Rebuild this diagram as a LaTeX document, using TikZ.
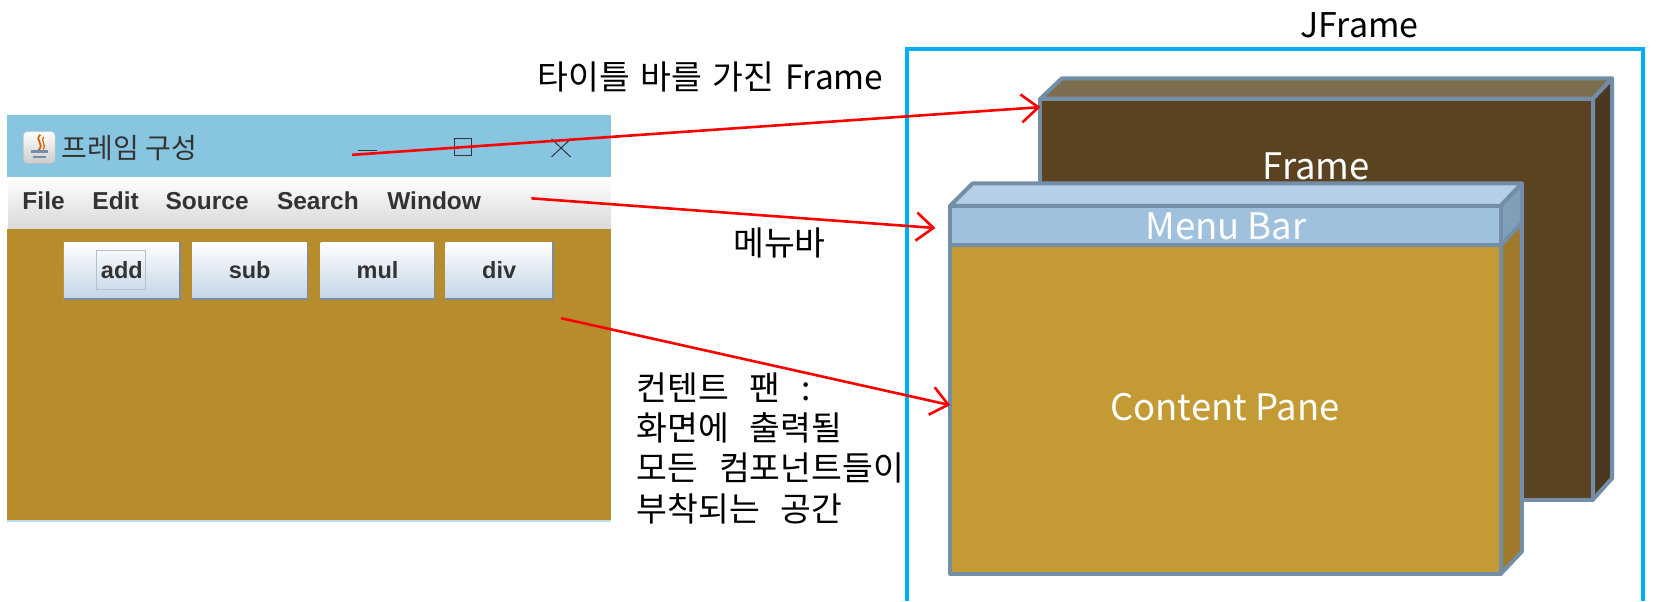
\documentclass[tikz,border=0pt]{standalone}
\usepackage{fontspec}
\setmainfont{Liberation Sans}
\newfontfamily\korfont{Noto Sans CJK KR}
\newcommand{\labelfont}{\korfont\fontsize{33.5}{40.3}\selectfont\spaceskip=10.5pt\relax}
\newcommand{\panefont}{\korfont\fontsize{33.5}{40.3}\selectfont\spaceskip=21pt\relax}
\usepackage{tikz}
\usetikzlibrary{arrows.meta}
\definecolor{framefront}{HTML}{5B4322}
\definecolor{frametop}{HTML}{7D6D4F}
\definecolor{frameside}{HTML}{4A3820}
\definecolor{menufront}{HTML}{9FC1DE}
\definecolor{menutop}{HTML}{B5D0E6}
\definecolor{menuside}{HTML}{819FB8}
\definecolor{panefront}{HTML}{C49A35}
\definecolor{paneside}{HTML}{A07A2A}
\definecolor{blockline}{HTML}{738FA8}
\definecolor{titlebar}{HTML}{88C5E0}
\definecolor{winpane}{HTML}{B78C2C}
\definecolor{jframeline}{HTML}{00B0F0}
\definecolor{glyphgray}{HTML}{333333}
\definecolor{btnbottom}{HTML}{C3D4E6}
\definecolor{btnshadow}{HTML}{7A8CA0}
\tikzset{
    blockface/.style={draw=blockline,line width=4pt,line join=round},
    arrowline/.style={draw=red,line width=2.6pt,-{Straight Barb[length=17pt,width=28pt,line width=2.6pt]}},
    btn/.style={top color=white,bottom color=btnbottom,inner sep=0pt,minimum height=57pt,anchor=north west,font=\fontsize{23.5}{23.5}\selectfont\bfseries,text=glyphgray},
    menuitem/.style={font=\fontsize{24.5}{24.5}\selectfont\bfseries,text=glyphgray,anchor=base west,inner sep=0pt},
    label/.style={font=\labelfont,text=black,inner sep=0pt},
    blocklabel/.style={font=\korfont\fontsize{36.5}{36.5}\selectfont,text=white,inner sep=0pt},
}
\begin{document}
\begin{tikzpicture}[x=1.0606pt,y=-1.0606pt]
    \useasboundingbox (0,0) rectangle (1568,567);

    % window on the left
    \fill[titlebar] (7,108) rectangle (576,167);
    \fill[winpane] (7,216) rectangle (576,491);
    \shade[top color=white,bottom color=black!15] (8,167) rectangle (576,215);
    \draw[titlebar!60,line width=2pt] (7,491) -- (576,491);
    \node[font=\korfont\fontsize{28}{28}\selectfont,text=glyphgray,anchor=west,inner sep=0pt] (wintitle) at (58,140) {프레임 구성};

    % java icon
    \draw[black!25,top color=white,bottom color=black!20,rounded corners=4pt] (22,124) rectangle (52,154);
    \draw[orange!80!black,line width=1.8pt] (38,127) .. controls (32,133) and (43,135) .. (36,142);
    \draw[orange!80!black,line width=1.2pt] (41,129) .. controls (38,133) and (44,136) .. (41,141);
    \draw[blockline,line width=2.5pt] (29,143) -- (45,143);
    \draw[blockline,line width=2pt] (31,148) -- (43,148);

    \draw[glyphgray,line width=1pt] (338,142) -- (355,142);
    \draw[glyphgray,line width=1pt] (429,131) rectangle (445,147);
    \draw[glyphgray,line width=1pt] (520,131) -- (538,148) (538,131) -- (520,148);

    \node[menuitem] (file) at (21,198) {File};
    \node[menuitem] (edit) at (87,198) {Edit};
    \node[menuitem] (source) at (156,198) {Source};
    \node[menuitem] (search) at (261,198) {Search};
    \node[menuitem] (window) at (365,198) {Window};

    \node[btn,minimum width=116pt] (add) at (60,228) {add};
    \draw[blockline!55,line width=1.5pt] (91,236) rectangle (137,273);
    \node[btn,minimum width=115pt] (sub) at (181,228) {sub};
    \node[btn,minimum width=114pt] (mul) at (302,228) {mul};
    \node[btn,minimum width=107pt] (div) at (420,228) {div};
    \foreach \b in {add,sub,mul,div}
        \draw[btnshadow,line width=1.5pt] (\b.south west) -- (\b.south east) -- (\b.north east);

    % the outer frame, open at the bottom
    \draw[jframeline,line width=4pt] (855,567) -- (855,46) -- (1549,46) -- (1549,567);
    \node[label,font=\korfont\fontsize{34}{34}\selectfont] (jframe) at (1282,24) {JFrame};

    % back block
    \draw[blockface,fill=frametop] (981,93) -- (1001,74) -- (1520,74) -- (1502,93) -- cycle;
    \draw[blockface,fill=frameside] (1502,93) -- (1520,74) -- (1520,451) -- (1502,471) -- cycle;
    \draw[blockface,fill=framefront] (981,93) rectangle (1502,471);
    \node[blocklabel] (framelabel) at (1241,157) {Frame};

    % front block
    \draw[blockface,fill=menutop] (896,194) -- (917,173) -- (1435,173) -- (1415,194) -- cycle;
    \draw[blockface,fill=paneside] (1415,231) -- (1435,210) -- (1435,520) -- (1415,541) -- cycle;
    \draw[blockface,fill=menuside] (1415,194) -- (1435,173) -- (1435,210) -- (1415,231) -- cycle;
    \draw[blockface,fill=panefront] (896,231) rectangle (1415,541);
    \draw[blockface,fill=menufront] (896,194) rectangle (1415,231);
    \node[blocklabel] (menubarlabel) at (1156,213) {Menu Bar};
    \node[blocklabel] (panelabel) at (1155,384) {Content Pane};

    % texts next to the arrows
    \node[label,anchor=west] (titletext) at (507,73) {타이틀 바를 가진 Frame};
    \node[label] (menutext) at (735,229) {메뉴바};
    \node[label,font=\panefont,align=left,anchor=north west] (panetext) at (600,351) {컨텐트 팬 :\\화면에 출력될\\모든 컴포넌트들이\\부착되는 공간};

    % arrows
    \coordinate (titlefrom) at (332,146);
    \coordinate (titleto) at (981,101);
    \coordinate (menufrom) at (501,187);
    \coordinate (menuto) at (882,215);
    \coordinate (panefrom) at (529,300);
    \coordinate (paneto) at (896,382);
    \draw[arrowline] (titlefrom) -- (titleto);
    \draw[arrowline] (menufrom) -- (menuto);
    \draw[arrowline] (panefrom) -- (paneto);
\end{tikzpicture}
\end{document}
